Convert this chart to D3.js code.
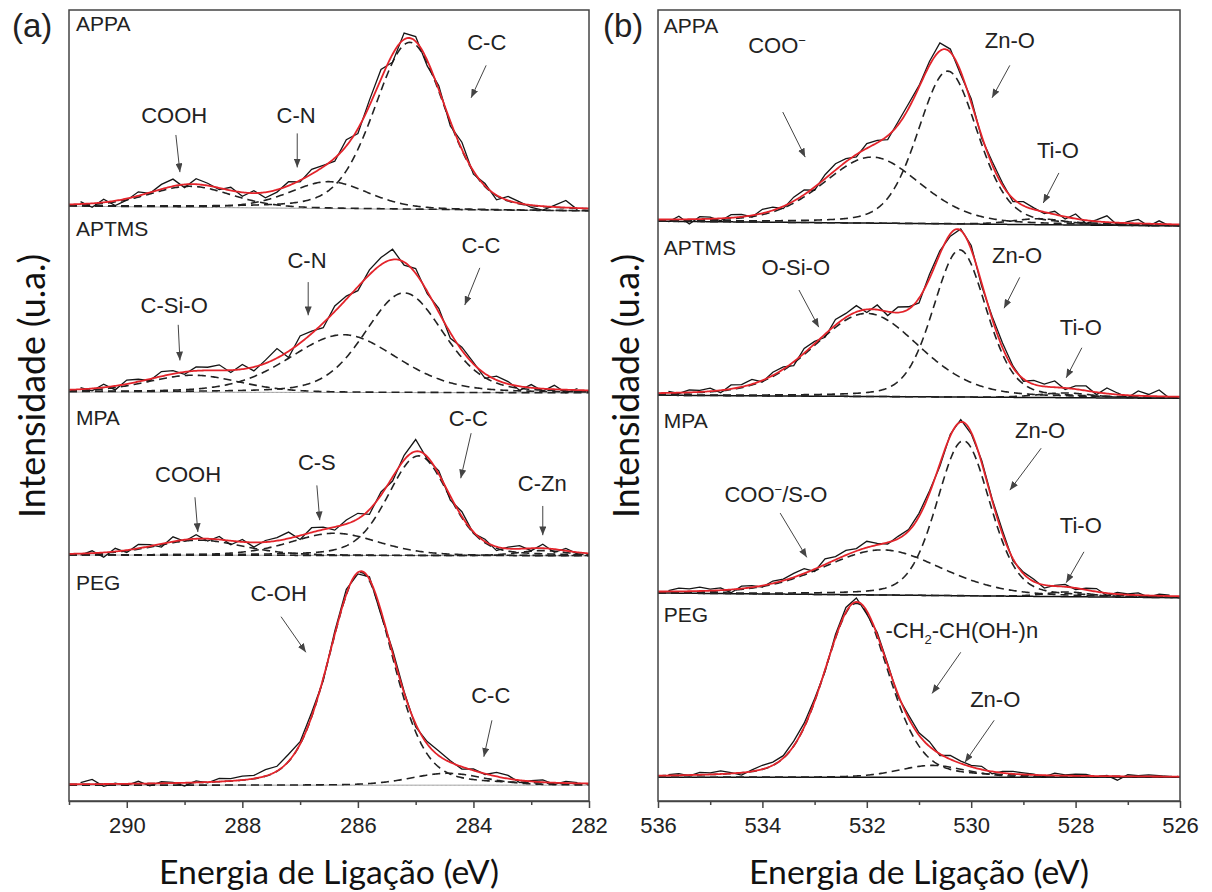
<!DOCTYPE html>
<meta charset="utf-8">
<style>
body { margin: 0; background: #fff; }
svg text { font-family: "Liberation Sans", Arial, sans-serif; fill: #222; }
.title { font-family: Lato, "Open Sans", sans-serif !important; fill: #111; }
</style>
<body></body>
<script src="https://cdnjs.cloudflare.com/ajax/libs/d3/7.8.5/d3.min.js"></script>
<script>
const samples = ['APPA', 'APTMS', 'MPA', 'PEG']

// ---- C 1s, panel (a) ----
const c1sRange = [291, 282]
const c1sTicks = [290, 288, 286, 284, 282]
const c1sMinor = [291, 289, 287, 285, 283]
// linear background, [left end, right end]
const c1sBaseline = [[75.2, 74.6], [51.7, 51.6], [31.1, 31.0], [2.0, 2.0]]
// components: [centre (eV), FWHM (eV), height]
const c1sAPPA = [[288.9, 1.7, 2.65], [286.5, 1.6, 3.4], [285.1, 1.45, 21.1]]
const c1sAPTMS = [[288.85, 1.9, 2.15], [286.25, 2.2, 7.3], [285.2, 1.6, 12.6]]
const c1sMPA = [[288.75, 1.8, 1.9], [286.4, 1.8, 2.8], [284.95, 1.25, 12.6], [282.8, 1.0, 0.65]]
const c1sPEG = [[285.95, 1.3, 26.9], [284.45, 1.5, 1.5]]
// measured points, offset from the fit, every 0.2 eV from 290.8 eV
const c1sStart = 290.8
const c1sNoiseAPPA = [0.3,-0.5,0.4,-0.6,-0.2,0.5,-0.1,0.6,0.9,-0.4, 0.7,0.3,-0.2,0.4,-0.5,0.3,-0.7,-0.3,0.5,-0.2,
  0.6,0.2,-0.4,0.8,-0.6,0.7,1.2,-1.0,0.8,0.6, -0.7,0.5,-0.6,0.9,-0.4,0.3,-0.6,0.5,0.2,-0.3, -0.5,0.2,0.9,-0.2]
const c1sNoiseAPTMS = [0.2,-0.3,0.4,-0.5,0.5,0.3,-0.2,0.6,0.4,-0.3, 0.5,0.4,0.7,-0.3,0.6,-0.5,0.4,1.2,-0.8,0.9,
  0.3,-0.6,0.7,0.4,-0.5,0.6,0.9,1.3,-0.4,0.6, -0.3,0.5,-0.7,0.4,0.2,-0.6,0.5,0.3,-0.5,0.4, -0.3,0.5,-0.4,0.2]
const c1sNoiseMPA = [-0.2,0.3,-0.6,0.4,-0.3,0.5,0.2,-0.4,0.6,-0.2, 0.5,-0.3,0.4,-0.5,0.3,-0.6,0.2,0.4,0.8,-0.5,
  0.6,0.3,-0.4,0.5,0.7,-0.6,0.4,-0.5,0.6,1.5, -0.3,0.4,-0.5,0.6,-0.2,0.3,-0.5,0.2,0.4,-0.3, 0.5,-0.4,0.3,-0.2]
const c1sNoisePEG = [0.2,0.6,-0.3,0.1,-0.2,0.3,-0.3,0.2,0.1,-0.4, 0.2,-0.1,0.4,0.3,0.5,0.4,0.8,0.6,0.9,0.3,
  0.5,-0.3,0.4,0.6,-0.2,0.3,-0.5,0.4,0.2,-0.4, 0.3,0.6,0.2,-0.3,0.2,-0.1,0.5,0.4,-0.3,0.1, 0.3,-0.2,0.2,0.1]
const c1sNameY = [97.3, 71.4, 47.5, 26.7]
// [text, label eV, label y, arrow from eV, y, arrow to eV, y]
const c1sNotes = [
  ['COOH', 289.18, 85.7, 289.15, 84.2, 289.08, 79.5],
  ['C-N', 287.07, 85.7, 287.05, 84.4, 287.05, 80.1],
  ['C-C', 283.77, 94.9, 283.78, 93.0, 284.04, 88.9],
  ['C-Si-O', 289.18, 61.7, 289.11, 60.2, 289.08, 55.7],
  ['C-N', 286.88, 67.4, 286.86, 65.6, 286.86, 61.4],
  ['C-C', 283.87, 69.3, 283.89, 67.4, 284.15, 62.7],
  ['COOH', 288.94, 40.3, 288.82, 38.4, 288.77, 34.0],
  ['C-S', 286.71, 41.8, 286.71, 39.9, 286.66, 35.5],
  ['C-C', 284.09, 47.4, 284.04, 46.5, 284.22, 40.8],
  ['C-Zn', 282.81, 39.2, 282.80, 37.3, 282.80, 33.6],
  ['C-OH', 287.37, 25.3, 287.33, 23.3, 286.90, 18.8],
  ['C-C', 283.70, 12.4, 283.68, 10.2, 283.82, 5.6]
]

// ---- O 1s, panel (b) ----
const o1sRange = [536, 526]
const o1sTicks = [536, 534, 532, 530, 528, 526]
const o1sMinor = [535, 533, 531, 529, 527]
const o1sBaseline = [[73.3, 72.7], [51.3, 50.9], [26.3, 25.7], [3.0, 3.0]]
const o1sAPPA = [[531.9, 2.2, 8.35], [530.45, 1.35, 19.3], [528.7, 1.2, 0.75]]
const o1sAPTMS = [[532.0, 2.4, 10.5], [530.22, 1.2, 18.6], [528.2, 1.2, 0.6]]
const o1sMPA = [[531.7, 2.7, 5.7], [530.15, 1.2, 19.6], [528.15, 1.0, 0.6]]
const o1sPEG = [[532.2, 1.45, 22.0], [530.75, 1.5, 1.5]]
const o1sStart = 535.8
const o1sNoiseAPPA = [-0.3,0.4,-0.6,0.3,0.2,-0.3,0.4,0.3,-0.2,0.5, 0.4,-0.3,0.5,0.6,-0.4,0.5,0.8,0.4,-0.3,0.6,
  0.3,-0.5,0.4,0.6,0.2,0.5,1.0,0.4,-0.4,0.5, -0.3,0.4,0.3,-0.4,0.5,0.2,-0.2,0.4,-0.3,0.6, -0.4,0.2,0.8,-0.3,0.2,0.5,-0.3,0.4,-0.2]
const o1sNoiseAPTMS = [0.2,-0.1,0.3,0.2,0.4,-0.3,0.5,0.3,0.6,-0.2, 0.4,0.3,-0.5,0.6,0.3,-0.4,0.7,0.5,0.8,-0.4,
  0.6,-0.5,0.7,0.3,-0.6,0.5,0.4,-0.3,0.2,0.5, -0.4,0.3,0.6,0.2,-0.3,0.5,0.3,0.8,-0.2,0.4, 0.6,-0.3,0.7,0.2,-0.3,0.6,0.2,0.8,-0.2]
const o1sNoiseMPA = [0.1,0.4,0.3,0.5,0.2,0.3,-0.4,0.3,0.2,-0.2, 0.3,0.2,0.5,0.6,-0.3,0.7,0.4,0.6,0.3,0.8,
  0.2,-0.2,0.3,0.2,0.4,0.3,-0.3,0.2,0.3,-0.2, 0.3,0.2,0.4,-0.3,0.2,0.3,-0.4,0.1,0.3,-0.2, 0.2,0.4,-0.3,0.2,0.1,0.3,-0.2,0.2,0.1]
const o1sNoisePEG = [0.1,0.2,-0.1,0.3,0.2,0.4,0.1,-0.3,0.2,0.5, 0.4,0.3,0.6,0.5,0.3,-0.2,0.4,0.6,0.5,-0.4,
  0.3,0.2,-0.3,0.4,0.3,0.6,-0.2,0.5,0.3,0.2, 0.4,-0.3,0.2,0.3,0.2,0.1,-0.2,0.3,0.1,0.2, 0.2,-0.1,0.1,-0.5,0.2,0.1,0.2,0.1,0.0]
const o1sNameY = [97.1, 69.0, 47.2, 22.6]
const o1sNotes = [
  ['COO^-', 533.72, 94.6, 533.61, 87.1, 533.18, 81.4],
  ['Zn-O', 529.26, 95.2, 529.26, 93.0, 529.60, 88.9],
  ['Ti-O', 528.34, 81.3, 528.32, 79.4, 528.62, 75.6],
  ['O-Si-O', 533.36, 66.5, 533.30, 64.6, 532.92, 59.9],
  ['Zn-O', 529.12, 68.0, 529.07, 66.2, 529.37, 62.3],
  ['Ti-O', 527.90, 58.9, 527.88, 57.3, 528.18, 53.5],
  ['COO^-/S-O', 533.74, 37.8, 533.66, 36.4, 533.15, 30.8],
  ['Zn-O', 528.68, 45.9, 528.66, 44.6, 529.26, 39.3],
  ['Ti-O', 527.90, 33.9, 527.84, 31.5, 528.18, 27.6],
  ['-CH_2-CH(OH-)n', 530.18, 20.6, 530.20, 18.8, 530.75, 13.6],
  ['Zn-O', 529.54, 11.9, 529.56, 10.2, 530.12, 4.9]
]

const width = 1212
const height = 892
const plotTop = 10
const plotBottom = 801
const step = 0.2
const eta = 0.25  // Lorentzian share of the peak shape

const svg = d3.select('body').append('svg')
    .attr('width', width)
    .attr('height', height)

const defs = svg.append('defs')
defs.append('marker')
    .attr('id', 'head')
    .attr('viewBox', '0 0 10 8')
    .attr('refX', 10).attr('refY', 4)
    .attr('markerWidth', 9).attr('markerHeight', 7)
    .attr('markerUnits', 'userSpaceOnUse')
    .attr('orient', 'auto')
  .append('path')
    .attr('d', 'M0,0 L10,4 L0,8 Z')
    .attr('fill', '#444')

function peak (e, [c, fwhm, h]) {
    const s = fwhm / 2.3548
    const g = Math.exp(-((e - c) ** 2) / (2 * s * s))
    const l = 1 / (1 + ((e - c) / (fwhm / 2)) ** 2)
    return h * ((1 - eta) * g + eta * l)
}

function background (e, base, range) {
    const t = (range[0] - e) / (range[0] - range[1])
    return base[0] + (base[1] - base[0]) * t
}

// '^x' -> superscript x, '_x' -> subscript x
function richText (sel, str) {
    const re = /([\^_])(.)/g
    let last = 0, shift = 0, m
    while ((m = re.exec(str)) !== null) {
        if (m.index > last) {
            sel.append('tspan').attr('dy', -shift).text(str.slice(last, m.index))
            shift = 0
        }
        const d = m[1] === '^' ? -8 : 6
        sel.append('tspan')
            .attr('dy', d - shift)
            .attr('font-size', 13)
            .text(m[2] === '-' ? '\u2212' : m[2])
        shift = d
        last = re.lastIndex
    }
    if (last < str.length) sel.append('tspan').attr('dy', -shift).text(str.slice(last))
}

function fitWidth (text, target) {
    const size = parseFloat(text.attr('font-size'))
    const w = text.node().getComputedTextLength()
    text.attr('font-size', size * target / w)
}

function drawPanel (cfg) {
    const x = d3.scaleLinear().domain(cfg.range).range([cfg.left, cfg.right])
    const y = d3.scaleLinear().domain([0, 100]).range([plotBottom, plotTop])
    const g = svg.append('g')

    g.append('clipPath').attr('id', cfg.id)
      .append('rect')
        .attr('x', cfg.left).attr('y', plotTop)
        .attr('width', cfg.right - cfg.left).attr('height', plotBottom - plotTop)

    const plot = g.append('g').attr('clip-path', `url(#${cfg.id})`)
    const line = d3.line().x(d => x(d[0])).y(d => y(d[1]))
    const grid = d3.range(0, 401).map(i => cfg.range[0] + (cfg.range[1] - cfg.range[0]) * i / 400)

    cfg.spectra.forEach(sp => {
        const bg = e => background(e, sp.base, cfg.range)
        const fit = e => bg(e) + d3.sum(sp.peaks, p => peak(e, p))

        plot.append('path')
            .attr('d', line(grid.map(e => [e, bg(e)])))
            .attr('fill', 'none')
            .attr('stroke', cfg.baseColor)
            .attr('stroke-width', cfg.baseWidth)

        sp.peaks.forEach(p => {
            plot.append('path')
                .attr('d', line(grid.map(e => [e, bg(e) + peak(e, p)])))
                .attr('fill', 'none')
                .attr('stroke', '#222')
                .attr('stroke-width', 1.6)
                .attr('stroke-dasharray', '8 5')
        })

        const pts = sp.noise.map((n, i) => {
            const e = cfg.start - i * step
            return [e, fit(e) + n]
        })
        plot.append('path')
            .attr('d', line(pts))
            .attr('fill', 'none')
            .attr('stroke', '#151515')
            .attr('stroke-width', 1.3)

        plot.append('path')
            .attr('d', line(grid.map(e => [e, fit(e)])))
            .attr('fill', 'none')
            .attr('stroke', '#e3242b')
            .attr('stroke-width', 1.8)
    })

    // sample names
    g.selectAll('.name')
        .data(samples)
        .enter().append('text')
            .attr('x', x(cfg.nameE))
            .attr('y', (d, i) => y(cfg.nameY[i]))
            .attr('font-size', 21)
            .text(d => d)

    // peak labels and arrows
    cfg.notes.forEach(([label, le, ly, e1, y1, e2, y2]) => {
        const t = g.append('text')
            .attr('x', x(le)).attr('y', y(ly))
            .attr('text-anchor', 'middle')
            .attr('font-size', 22)
        richText(t, label)
        g.append('line')
            .attr('x1', x(e1)).attr('y1', y(y1))
            .attr('x2', x(e2)).attr('y2', y(y2))
            .attr('stroke', '#444')
            .attr('stroke-width', 1)
            .attr('marker-end', 'url(#head)')
    })

    // frame
    g.append('rect')
        .attr('x', cfg.left).attr('y', plotTop)
        .attr('width', cfg.right - cfg.left).attr('height', plotBottom - plotTop)
        .attr('fill', 'none')
        .attr('stroke', '#444')
        .attr('stroke-width', 1.5)

    const axis = g.append('g')
        .attr('transform', `translate(0,${plotBottom})`)
        .call(d3.axisBottom(x).tickValues(cfg.ticks).tickSize(7).tickPadding(9).tickSizeOuter(0))
    axis.select('.domain').attr('stroke', '#444').attr('stroke-width', 1.5)
    axis.selectAll('.tick line').attr('stroke', '#444').attr('stroke-width', 1.5)
    axis.selectAll('.tick text')
        .attr('font-size', 22)
        .attr('font-family', '"Liberation Sans", Arial, sans-serif')
        .attr('fill', '#222')

    const minor = g.append('g')
        .attr('transform', `translate(0,${plotBottom})`)
        .call(d3.axisBottom(x).tickValues(cfg.minor).tickSize(4).tickFormat('').tickSizeOuter(0))
    minor.select('.domain').remove()
    minor.selectAll('.tick line').attr('stroke', '#444').attr('stroke-width', 1.5)

    // panel letter
    g.append('text')
        .attr('x', cfg.letterX).attr('y', 37)
        .attr('font-size', 33)
        .text(cfg.letter)

    const xt = g.append('text')
        .attr('class', 'title')
        .attr('x', (cfg.left + cfg.right) / 2).attr('y', 884)
        .attr('text-anchor', 'middle')
        .attr('font-size', 32)
        .text('Energia de Ligação (eV)')
    fitWidth(xt, 340)

    const yt = g.append('text')
        .attr('class', 'title')
        .attr('transform', `translate(${cfg.titleX},386) rotate(-90)`)
        .attr('text-anchor', 'middle')
        .attr('font-size', 32)
        .text('Intensidade (u.a.)')
    fitWidth(yt, 264)
}

drawPanel({
    id: 'clipA', letter: '(a)', letterX: 12, titleX: 45,
    left: 69, right: 589,
    range: c1sRange, ticks: c1sTicks, minor: c1sMinor,
    start: c1sStart, nameE: 290.88, nameY: c1sNameY, notes: c1sNotes,
    baseColor: '#999', baseWidth: 1,
    spectra: [
        { base: c1sBaseline[0], peaks: c1sAPPA, noise: c1sNoiseAPPA },
        { base: c1sBaseline[1], peaks: c1sAPTMS, noise: c1sNoiseAPTMS },
        { base: c1sBaseline[2], peaks: c1sMPA, noise: c1sNoiseMPA },
        { base: c1sBaseline[3], peaks: c1sPEG, noise: c1sNoisePEG }
    ]
})

drawPanel({
    id: 'clipB', letter: '(b)', letterX: 603, titleX: 639,
    left: 658, right: 1180,
    range: o1sRange, ticks: o1sTicks, minor: o1sMinor,
    start: o1sStart, nameE: 535.89, nameY: o1sNameY, notes: o1sNotes,
    baseColor: '#111', baseWidth: 1.5,
    spectra: [
        { base: o1sBaseline[0], peaks: o1sAPPA, noise: o1sNoiseAPPA },
        { base: o1sBaseline[1], peaks: o1sAPTMS, noise: o1sNoiseAPTMS },
        { base: o1sBaseline[2], peaks: o1sMPA, noise: o1sNoiseMPA },
        { base: o1sBaseline[3], peaks: o1sPEG, noise: o1sNoisePEG }
    ]
})
</script>
